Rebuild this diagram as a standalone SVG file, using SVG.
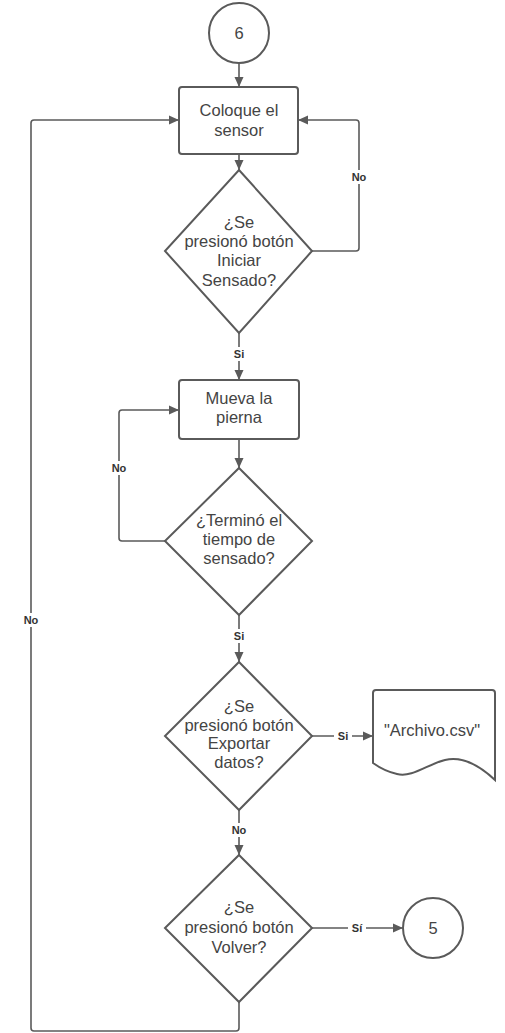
<svg xmlns="http://www.w3.org/2000/svg" width="505" height="1033" viewBox="0 0 505 1033">
  <style>
    .shape { fill: #ffffff; stroke: #5a5a5a; stroke-width: 2; }
    .line { fill: none; stroke: #5a5a5a; stroke-width: 1.6; }
    .txt { font-family: "Liberation Sans", Arial, sans-serif; font-size: 16.5px; fill: #444444; text-anchor: middle; }
    .lbl { font-family: "Liberation Sans", Arial, sans-serif; font-size: 11px; font-weight: bold; fill: #333333; text-anchor: middle; }
    .lblbg { fill: #ffffff; }
  </style>
  <defs>
    <marker id="arrow" viewBox="0 0 10 10" refX="10" refY="5" markerWidth="10" markerHeight="10" markerUnits="userSpaceOnUse" orient="auto">
      <path d="M0,0.5 L10,5 L0,9.5 Z" fill="#5a5a5a"/>
    </marker>
  </defs>
  <rect width="505" height="1033" fill="#ffffff"/>

  <!-- connectors -->
  <g id="connectors">
    <path class="line" d="M239,63 V87" marker-end="url(#arrow)"/>
    <path class="line" d="M239,154 V170" marker-end="url(#arrow)"/>
    <path class="line" d="M312,251 H356 Q359,251 359,248 V123 Q359,120 356,120 H298" marker-end="url(#arrow)"/>
    <path class="line" d="M239,333 V380" marker-end="url(#arrow)"/>
    <path class="line" d="M239,439 V468" marker-end="url(#arrow)"/>
    <path class="line" d="M165,541 H122 Q119,541 119,538 V413 Q119,410 122,410 H179" marker-end="url(#arrow)"/>
    <path class="line" d="M239,615 V662" marker-end="url(#arrow)"/>
    <path class="line" d="M312,736 H373" marker-end="url(#arrow)"/>
    <path class="line" d="M239,810 V855" marker-end="url(#arrow)"/>
    <path class="line" d="M312,928 H403" marker-end="url(#arrow)"/>
    <path class="line" d="M239,1002 V1028 Q239,1031 236,1031 H34 Q31,1031 31,1028 V123 Q31,120 34,120 H179" marker-end="url(#arrow)"/>

    <!-- connector labels -->
    <rect class="lblbg" x="349" y="170" width="20" height="14"/>
    <text class="lbl" x="359" y="181">No</text>
    <rect class="lblbg" x="230" y="347" width="18" height="14"/>
    <text class="lbl" x="239" y="358">Si</text>
    <rect class="lblbg" x="109" y="461" width="20" height="14"/>
    <text class="lbl" x="119" y="472">No</text>
    <rect class="lblbg" x="230" y="629" width="18" height="14"/>
    <text class="lbl" x="239" y="640">Si</text>
    <rect class="lblbg" x="334" y="729" width="18" height="14"/>
    <text class="lbl" x="343" y="740">Si</text>
    <rect class="lblbg" x="229" y="823" width="20" height="14"/>
    <text class="lbl" x="239" y="834">No</text>
    <rect class="lblbg" x="348" y="921" width="18" height="14"/>
    <text class="lbl" x="357" y="932">Sí</text>
    <rect class="lblbg" x="21" y="613" width="20" height="14"/>
    <text class="lbl" x="31" y="624">No</text>
  </g>

  <!-- start connector 6 -->
  <g id="node-start">
    <circle class="shape" cx="239" cy="33" r="30"/>
    <text class="txt" x="239" y="39">6</text>
  </g>

  <g id="node-coloque">
    <rect class="shape" x="179" y="87" width="119" height="67" rx="3"/>
    <text class="txt" x="239" y="116">Coloque el</text>
    <text class="txt" x="239" y="136">sensor</text>
  </g>

  <g id="node-iniciar">
    <path class="shape" d="M239,170 L312,251 L239,333 L165,251 Z"/>
    <text class="txt" x="239" y="228">¿Se</text>
    <text class="txt" x="239" y="247">presionó botón</text>
    <text class="txt" x="239" y="266">Iniciar</text>
    <text class="txt" x="239" y="286">Sensado?</text>
  </g>

  <g id="node-mueva">
    <rect class="shape" x="179" y="380" width="120" height="59" rx="3"/>
    <text class="txt" x="239" y="404">Mueva la</text>
    <text class="txt" x="239" y="423">pierna</text>
  </g>

  <g id="node-termino">
    <path class="shape" d="M239,468 L312,541 L239,615 L165,541 Z"/>
    <text class="txt" x="239" y="526">¿Terminó el</text>
    <text class="txt" x="239" y="545">tiempo de</text>
    <text class="txt" x="239" y="564">sensado?</text>
  </g>

  <g id="node-exportar">
    <path class="shape" d="M239,662 L312,736 L239,810 L165,736 Z"/>
    <text class="txt" x="239" y="712">¿Se</text>
    <text class="txt" x="239" y="731">presionó botón</text>
    <text class="txt" x="239" y="749">Exportar</text>
    <text class="txt" x="239" y="768">datos?</text>
  </g>

  <g id="node-archivo">
    <path class="shape" d="M373,693 Q373,690 376,690 H492 Q495,690 495,693 V780 C478,764 462,756 445,760 C428,764 412,778 397,774 C388,772 380,768 373,763 Z"/>
    <text class="txt" x="432" y="736">"Archivo.csv"</text>
  </g>

  <g id="node-volver">
    <path class="shape" d="M239,855 L312,928 L239,1002 L165,928 Z"/>
    <text class="txt" x="239" y="913">¿Se</text>
    <text class="txt" x="239" y="933">presionó botón</text>
    <text class="txt" x="239" y="953">Volver?</text>
  </g>

  <!-- end connector 5 -->
  <g id="node-end">
    <circle class="shape" cx="433" cy="928" r="30"/>
    <text class="txt" x="433" y="934">5</text>
  </g>
</svg>
